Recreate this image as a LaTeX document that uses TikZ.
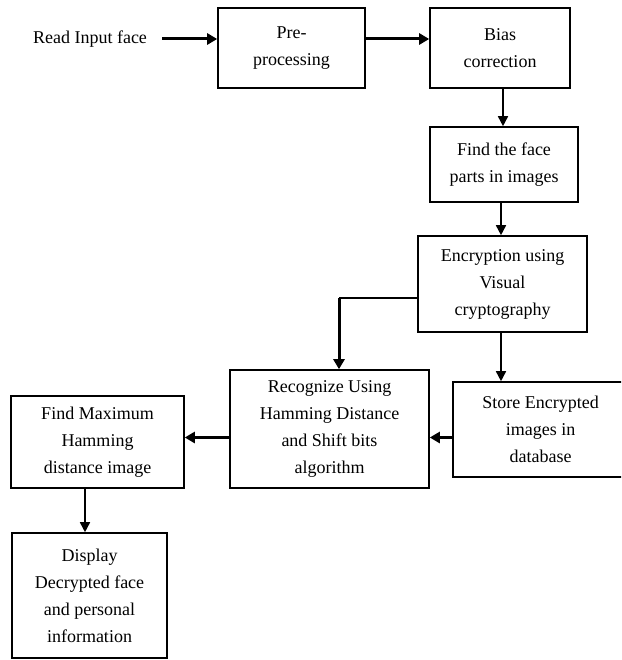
\documentclass[tikz,border=0pt]{standalone}
\usepackage{fontspec}
\setmainfont{Liberation Serif}
\usetikzlibrary{arrows.meta}
\tikzset{
  box/.style={draw, line width=1.6pt, align=center, inner sep=0pt,
    font=\fontsize{18}{27}\selectfont},
  thinarrow/.style={line width=1.6pt, -{Triangle[length=10pt,width=10pt]}},
  thickarrow/.style={line width=3pt, -{Triangle[length=10pt,width=11pt]}},
  lbl/.style={inner sep=0pt, font=\fontsize{18}{27}\selectfont}
}
\begin{document}
\begin{tikzpicture}[x=1pt,y=-1pt]
\useasboundingbox (0,0) rectangle (621,660);
\fill[white] (0,0) rectangle (621,660);
\clip (0,0) rectangle (621,660);

\node[lbl] (read) at (90,39) {Read Input face};
\node[box, minimum width=147pt, minimum height=80pt] (pre) at (291.5,48) {Pre-\\processing};
\node[box, minimum width=140pt, minimum height=80pt] (bias) at (500,48) {Bias\\correction};
\node[box, minimum width=148pt, minimum height=75pt] (find) at (504,164.5) {Find the face\\parts in images};
\node[box, minimum width=169pt, minimum height=96pt] (enc) at (502.5,284) {Encryption using\\Visual\\cryptography};
\node[box, minimum width=199pt, minimum height=118pt] (rec) at (329.5,429) {Recognize Using\\Hamming Distance\\and Shift bits\\algorithm};
\node[box, minimum width=175pt, minimum height=95pt] (store) at (540.5,429.5) {Store Encrypted\\images in\\database};
\node[box, minimum width=173pt, minimum height=92pt] (fmax) at (97.5,442) {Find Maximum\\Hamming\\distance image};
\node[box, minimum width=155pt, minimum height=125pt] (disp) at (89.5,595.5) {Display\\Decrypted face\\and personal\\information};

\coordinate (toprow) at (0,39);
\coordinate (midrow) at (0,437.5);
\coordinate (col1) at (503,0);
\coordinate (col2) at (501,0);
\coordinate (col3) at (85,0);
\coordinate (col4) at (339,0);
\coordinate (encrow) at (0,298);

\draw[thickarrow] ([xshift=15pt]read.east) -- (pre.west |- toprow);
\draw[thickarrow] (pre.east |- toprow) -- (bias.west |- toprow);
\draw[thinarrow] (bias.south -| col1) -- (find.north -| col1);
\draw[thinarrow] (find.south -| col2) -- (enc.north -| col2);
\draw[thinarrow] (enc.south -| col2) -- (store.north -| col2);
\draw[line width=1.6pt] (enc.west |- encrow) -- (col4 |- encrow);
\draw[thickarrow] (col4 |- encrow) -- (rec.north -| col4);
\draw[thickarrow] (store.west |- midrow) -- (rec.east |- midrow);
\draw[thickarrow] (rec.west |- midrow) -- (fmax.east |- midrow);
\draw[thinarrow] (fmax.south -| col3) -- (disp.north -| col3);
\end{tikzpicture}
\end{document}
